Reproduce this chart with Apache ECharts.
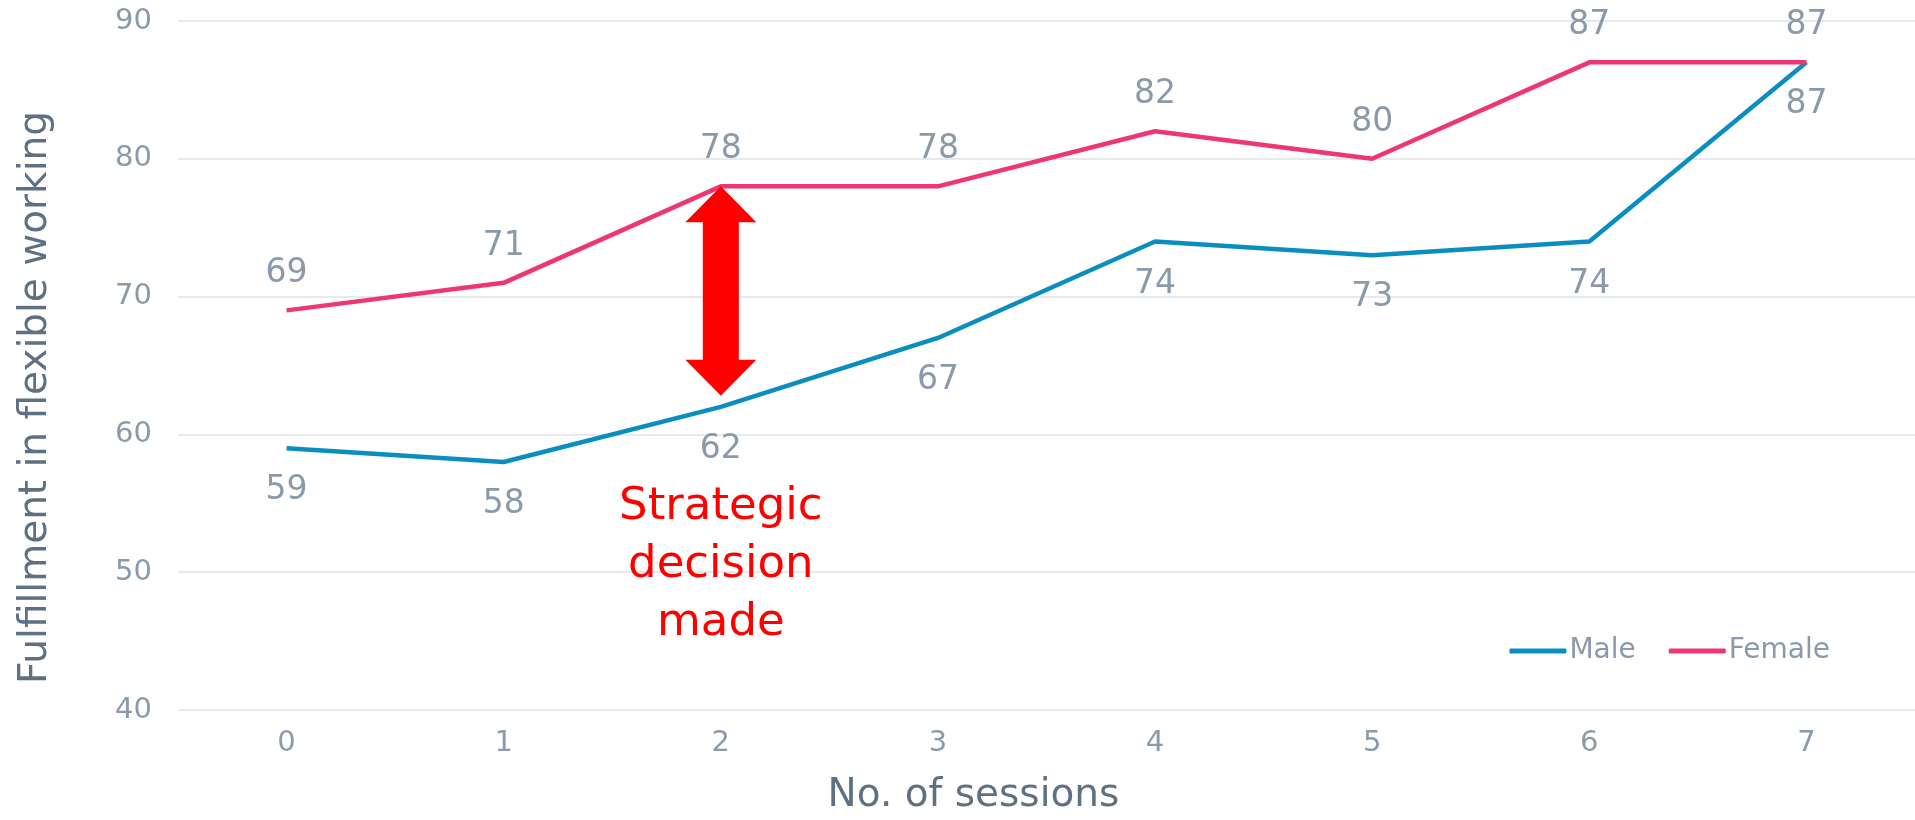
<!DOCTYPE html>
<html>
<head>
<meta charset="utf-8">
<script src="https://cdn.jsdelivr.net/npm/echarts@6/dist/echarts.min.js"></script>
<style>
html,body{margin:0;padding:0;background:#fff;}
#chart{width:1915px;height:820px;}
</style>
</head>
<body>
<div id="chart"></div>
<script>
const categories = ['0','1','2','3','4','5','6','7'];
const maleValues = [59, 58, 62, 67, 74, 73, 74, 87];
const femaleValues = [69, 71, 78, 78, 82, 80, 87, 87];
const yTicks = {min: 40, max: 90, interval: 10};
// annotation: double arrow at session 2 from 78 down to ~62.8, note centred near 50
const arrowSession = [2];
const arrowTop = [78];
const arrowBottom = [62.8];
const noteValue = [50.5];
const noteText = 'Strategic\ndecision\nmade';

const FONT = '"DejaVu Sans"';
const GRAY = '#8a9aab';
const TITLE = '#5e7184';
const MALE = '#0a8ec0';
const FEMALE = '#ef3674';

const chart = echarts.init(document.getElementById('chart'));
chart.setOption({
  animation: false,
  grid: {left: 178, right: 0, top: 21, bottom: 105, containLabel: false},
  legend: {
    data: ['Male', 'Female'],
    right: 80, top: 632,
    icon: 'roundRect', itemWidth: 57, itemHeight: 5, itemGap: 33,
    textStyle: {color: GRAY, fontFamily: FONT, fontSize: 28, padding: [0, 0, 0, -2]}
  },
  xAxis: {
    type: 'category', data: categories,
    name: 'No. of sessions', nameLocation: 'middle', nameGap: 66,
    nameTextStyle: {color: TITLE, fontFamily: FONT, fontSize: 39, padding: [0, 146, 0, 0]},
    axisLine: {show: false}, axisTick: {show: false},
    axisLabel: {color: GRAY, fontFamily: FONT, fontSize: 29, margin: 19}
  },
  yAxis: {
    type: 'value', min: yTicks.min, max: yTicks.max, interval: yTicks.interval,
    name: 'Fulfillment in flexible working', nameLocation: 'middle', nameGap: 123,
    nameTextStyle: {color: TITLE, fontFamily: FONT, fontSize: 39, padding: [0, 64, 0, 0]},
    axisLine: {show: false}, axisTick: {show: false},
    axisLabel: {color: GRAY, fontFamily: FONT, fontSize: 29, margin: 26},
    splitLine: {lineStyle: {color: '#e6e9ed', width: 2}}
  },
  series: [
    {
      name: 'Male', type: 'line', data: maleValues,
      symbol: 'circle', symbolSize: 0, showSymbol: true,
      lineStyle: {color: MALE, width: 4.5}, itemStyle: {color: MALE},
      label: {show: true, position: 'bottom', distance: 26, color: GRAY, fontFamily: FONT, fontSize: 33}
    },
    {
      name: 'Female', type: 'line', data: femaleValues,
      symbol: 'circle', symbolSize: 0, showSymbol: true,
      lineStyle: {color: FEMALE, width: 4.5}, itemStyle: {color: FEMALE},
      label: {show: true, position: 'top', distance: 20, color: GRAY, fontFamily: FONT, fontSize: 33}
    },
    {
      name: 'annotation', type: 'custom', z: 5,
      data: arrowSession.map((s, i) => [s, arrowTop[i], arrowBottom[i], noteValue[i]]),
      renderItem: function (params, api) {
        const x = api.value(0);
        const t = api.coord([x, api.value(1)]);
        const b = api.coord([x, api.value(2)]);
        const n = api.coord([x, api.value(3)]);
        const cx = t[0], hl = 36, hw = 35.5, sw = 18;
        const pts = [
          [cx, t[1]], [cx + hw, t[1] + hl], [cx + sw, t[1] + hl],
          [cx + sw, b[1] - hl], [cx + hw, b[1] - hl], [cx, b[1]],
          [cx - hw, b[1] - hl], [cx - sw, b[1] - hl], [cx - sw, t[1] + hl],
          [cx - hw, t[1] + hl]
        ];
        return {
          type: 'group',
          children: [
            {type: 'polygon', shape: {points: pts}, style: {fill: '#ff0000'}},
            {type: 'text', style: {
              text: noteText, x: n[0], y: n[1], fill: '#ff0000',
              fontFamily: FONT, fontSize: 45, lineHeight: 58,
              align: 'center', verticalAlign: 'middle'
            }}
          ]
        };
      }
    }
  ]
});
</script>
</body>
</html>
